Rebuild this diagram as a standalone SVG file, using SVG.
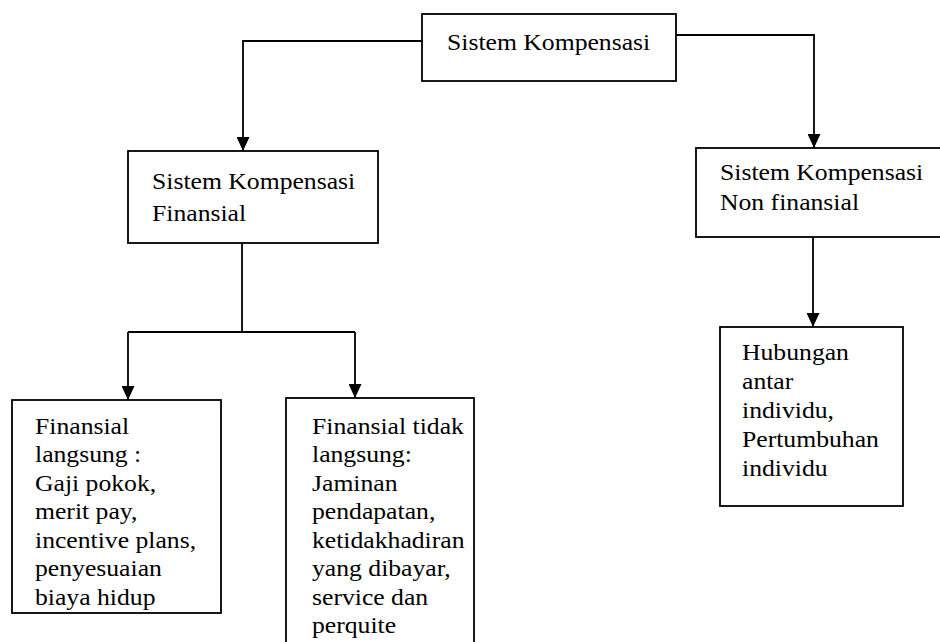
<svg xmlns="http://www.w3.org/2000/svg" width="940" height="642" viewBox="0 0 940 642">
<style>
.box{fill:#fff;stroke:#000;stroke-width:1.8}
.ln{fill:none;stroke:#000;stroke-width:1.8}
text{font-family:"Liberation Serif","Times New Roman",serif;font-size:24px;fill:#000}
</style>
<defs>
<marker id="ah" viewBox="0 0 14 13" refX="14" refY="6.5" markerWidth="14" markerHeight="13" markerUnits="userSpaceOnUse" orient="auto">
<path d="M0,0 L14,6.5 L0,13 z" fill="#000"/>
</marker>
</defs>
<rect width="940" height="642" fill="#fff"/>
<g id="connectors">
<polyline class="ln" points="422,41 243,41 243,151" marker-end="url(#ah)"/>
<polyline class="ln" points="676,35 814,35 814,148" marker-end="url(#ah)"/>
<line class="ln" x1="242" y1="243" x2="242" y2="332"/>
<polyline class="ln" points="128,332 355,332"/>
<line class="ln" x1="128" y1="332" x2="128" y2="400" marker-end="url(#ah)"/>
<line class="ln" x1="355" y1="332" x2="355" y2="398" marker-end="url(#ah)"/>
<line class="ln" x1="813" y1="237" x2="813" y2="327" marker-end="url(#ah)"/>
</g>
<g id="root">
<rect class="box" x="422" y="14" width="254" height="67"/>
<text transform="translate(447,50) scale(1.07,1)">Sistem Kompensasi</text>
</g>
<g id="finansial">
<rect class="box" x="128" y="151" width="250" height="92"/>
<text transform="translate(152,189) scale(1.07,1)"><tspan x="0" y="0">Sistem Kompensasi</tspan><tspan x="0" y="32">Finansial</tspan></text>
</g>
<g id="nonfinansial">
<rect class="box" x="696" y="148" width="260" height="89"/>
<text transform="translate(720,180) scale(1.07,1)"><tspan x="0" y="0">Sistem Kompensasi</tspan><tspan x="0" y="30">Non finansial</tspan></text>
</g>
<g id="langsung">
<rect class="box" x="12" y="400" width="209" height="213"/>
<text transform="translate(35,434) scale(1.07,1)"><tspan x="0" y="0">Finansial</tspan><tspan x="0" y="28.5">langsung :</tspan><tspan x="0" y="57">Gaji pokok,</tspan><tspan x="0" y="85.5">merit pay,</tspan><tspan x="0" y="114">incentive plans,</tspan><tspan x="0" y="142.5">penyesuaian</tspan><tspan x="0" y="171">biaya hidup</tspan></text>
</g>
<g id="tidaklangsung">
<rect class="box" x="286" y="398" width="188" height="260"/>
<text transform="translate(312,434) scale(1.07,1)"><tspan x="0" y="0">Finansial tidak</tspan><tspan x="0" y="28.5">langsung:</tspan><tspan x="0" y="57">Jaminan</tspan><tspan x="0" y="85.5">pendapatan,</tspan><tspan x="0" y="114">ketidakhadiran</tspan><tspan x="0" y="142.5">yang dibayar,</tspan><tspan x="0" y="171">service dan</tspan><tspan x="0" y="199.5">perquite</tspan></text>
</g>
<g id="hubungan">
<rect class="box" x="720" y="327" width="183" height="179"/>
<text transform="translate(742,360) scale(1.07,1)"><tspan x="0" y="0">Hubungan</tspan><tspan x="0" y="29">antar</tspan><tspan x="0" y="58">individu,</tspan><tspan x="0" y="87">Pertumbuhan</tspan><tspan x="0" y="116">individu</tspan></text>
</g>
</svg>
